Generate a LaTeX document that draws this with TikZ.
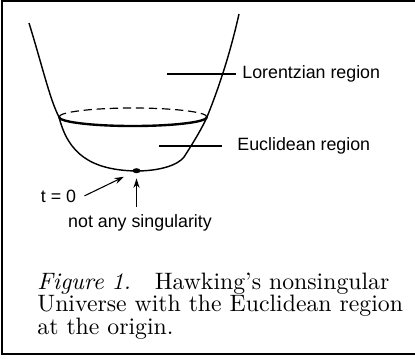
\documentclass[tikz,border=0pt]{standalone}
\usepackage{fontspec}
\newfontfamily\labelfont{Liberation Sans}
\usetikzlibrary{shapes.geometric,arrows.meta,positioning}

\begin{document}
\begin{tikzpicture}[x=0.421pt,y=0.421pt,
  every node/.style={font=\labelfont\fontsize{7.5}{9}\selectfont},
  arr/.style={-{Stealth[length=4pt,width=2.6pt]},line width=0.45pt},
  lead/.style={line width=0.45pt},
  region/.style={anchor=west,inner sep=2.5pt}]
\useasboundingbox (0,0) rectangle (415,358);
% frame
\draw[line width=0.9pt] (415,357.3) -- (2,357.3) -- (2,4) -- (415,4);
% the universe
\draw[line width=0.6pt] (29,335) .. controls (42,293) and (50,258) .. (59,241)
  .. controls (68,205) and (90,188) .. (136,187)
  .. controls (160,187) and (178,193) .. (184,201)
  .. controls (195,218) and (202,230) .. (207,241)
  .. controls (222,278) and (232,313) .. (239,344);
\draw[line width=0.5pt,dash pattern=on 3.5pt off 2pt] (59,241) arc[start angle=180,end angle=0,x radius=74,y radius=9];
\draw[line width=1pt] (59,241) arc[start angle=180,end angle=360,x radius=74,y radius=9];
\node[ellipse,fill,inner sep=0,minimum width=3.4pt,minimum height=2.1pt] (dot) at (136.5,187.3) {};
% labels
\coordinate (lorin) at (167,284);
\node[region] (lor) at (236,284) {Lorentzian region};
\draw[lead] (lorin) -- (lor.west);
\coordinate (eucin) at (159,212);
\node[region,inner xsep=6.3pt] (euc) at (222,212) {Euclidean region};
\draw[lead] (eucin) -- (euc.west);
\node[anchor=base] (t0) at (58.5,156) {t = 0};
\draw[arr,shorten >=4.2pt] (t0.east) -- (dot);
\node[anchor=base,inner ysep=3pt] (sing) at (140,131) {not any singularity};
\draw[arr,shorten >=2pt] (sing.north -| dot) -- (dot.south);
% caption
\node[anchor=base west,text width=154.5pt,inner sep=0,font=\rmfamily\fontsize{10}{9.6}\selectfont] (cap) at (37,69)
  {\makebox[\linewidth][s]{\textit{Figure 1.}\quad Hawking's nonsingular}\\
   \makebox[\linewidth][s]{Universe with the Euclidean region}\\
   at the origin.};
\end{tikzpicture}
\end{document}
